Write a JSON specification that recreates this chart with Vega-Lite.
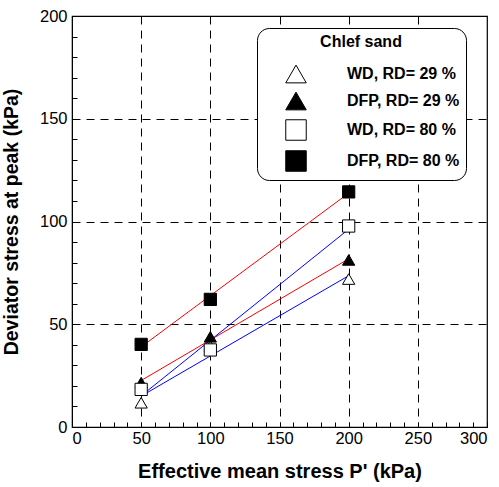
{
  "$schema": "https://vega.github.io/schema/vega-lite/v6.json",
  "autosize": "none",
  "width": 415,
  "height": 411,
  "padding": {"left": 72, "top": 16, "right": 12, "bottom": 60},
  "background": "white",
  "config": {
    "font": "Liberation Sans",
    "view": {"stroke": "black", "strokeWidth": 1.2},
    "legend": {
      "orient": "none", "legendX": 185, "legendY": 12,
      "fillColor": "white", "strokeColor": "black", "cornerRadius": 12,
      "padding": 6, "titleFontSize": 16, "titleFontWeight": "bold", "titleColor": "black",
      "titleAnchor": "middle", "titlePadding": 13,
      "labelFontSize": 16, "labelFontWeight": "bold", "labelColor": "black",
      "symbolSize": 420, "symbolOffset": 22, "labelOffset": 40, "rowPadding": 5,
      "symbolStrokeWidth": 1
    }
  },
  "data": {
    "values": [
      {"p": 50, "q": 11.8, "series": "WD, RD= 29 %", "test": "WD"},
      {"p": 100, "q": 39.4, "series": "WD, RD= 29 %", "test": "WD"},
      {"p": 200, "q": 72.0, "series": "WD, RD= 29 %", "test": "WD"},
      {"p": 50, "q": 21.6, "series": "DFP, RD= 29 %", "test": "DFP"},
      {"p": 100, "q": 43.9, "series": "DFP, RD= 29 %", "test": "DFP"},
      {"p": 200, "q": 81.3, "series": "DFP, RD= 29 %", "test": "DFP"},
      {"p": 50, "q": 18.3, "series": "WD, RD= 80 %", "test": "WD"},
      {"p": 100, "q": 37.5, "series": "WD, RD= 80 %", "test": "WD"},
      {"p": 200, "q": 97.8, "series": "WD, RD= 80 %", "test": "WD"},
      {"p": 50, "q": 40.2, "series": "DFP, RD= 80 %", "test": "DFP"},
      {"p": 100, "q": 62.1, "series": "DFP, RD= 80 %", "test": "DFP"},
      {"p": 200, "q": 114.4, "series": "DFP, RD= 80 %", "test": "DFP"}
    ]
  },
  "encoding": {
    "x": {
      "field": "p", "type": "quantitative",
      "scale": {"domain": [0, 300], "nice": false},
      "axis": {
        "title": "Effective mean stress P' (kPa)",
        "titleFontSize": 20, "titleFontWeight": "bold", "titleColor": "black", "titlePadding": 15,
        "values": [0,10,20,30,40,50,60,70,80,90,100,110,120,130,140,150,160,170,180,190,200,210,220,230,240,250,260,270,280,290,300],
        "labelExpr": "datum.value % 50 === 0 ? datum.label : ''",
        "labelFontSize": 16.5, "labelColor": "black", "labelPadding": 8,
        "tickSize": -5, "tickColor": "black", "domainColor": "black",
        "grid": true, "gridColor": "black", "gridDash": [8, 6],
        "gridOpacity": {"condition": {"test": "datum.value % 50 === 0 && datum.value > 0 && datum.value < 300", "value": 1}, "value": 0}
      }
    },
    "y": {
      "field": "q", "type": "quantitative",
      "scale": {"domain": [0, 200], "nice": false},
      "axis": {
        "title": "Deviator stress at peak (kPa)",
        "titleFontSize": 19.5, "titleFontWeight": "bold", "titleColor": "black", "titlePadding": 18,
        "values": [0,10,20,30,40,50,60,70,80,90,100,110,120,130,140,150,160,170,180,190,200],
        "labelExpr": "datum.value % 50 === 0 ? datum.label : ''",
        "labelFontSize": 16.5, "labelColor": "black", "labelPadding": 10,
        "tickSize": -5, "tickColor": "black", "domainColor": "black",
        "grid": true, "gridColor": "black", "gridDash": [8, 6],
        "gridOpacity": {"condition": {"test": "datum.value % 50 === 0 && datum.value > 0 && datum.value < 200", "value": 1}, "value": 0}
      }
    }
  },
  "layer": [
    {
      "transform": [
        {"regression": "q", "on": "p", "groupby": ["series", "test"]}
      ],
      "mark": {"type": "line", "strokeWidth": 1},
      "encoding": {
        "detail": {"field": "series"},
        "color": {
          "field": "test", "type": "nominal",
          "scale": {"domain": ["DFP", "WD"], "range": ["#ff0000", "#0000ff"]},
          "legend": null
        }
      }
    },
    {
      "mark": {"type": "point", "filled": true, "strokeWidth": 1, "size": 150, "opacity": 1},
      "encoding": {
        "shape": {
          "field": "series", "type": "nominal",
          "scale": {"domain": ["WD, RD= 29 %", "DFP, RD= 29 %", "WD, RD= 80 %", "DFP, RD= 80 %"], "range": ["triangle-up", "triangle-up", "square", "square"]},
          "legend": {"title": "Chlef sand"}
        },
        "fill": {
          "field": "series", "type": "nominal",
          "scale": {"domain": ["WD, RD= 29 %", "DFP, RD= 29 %", "WD, RD= 80 %", "DFP, RD= 80 %"], "range": ["white", "black", "white", "black"]},
          "legend": {"title": "Chlef sand"}
        },
        "stroke": {
          "field": "series", "type": "nominal",
          "scale": {"domain": ["WD, RD= 29 %", "DFP, RD= 29 %", "WD, RD= 80 %", "DFP, RD= 80 %"], "range": ["black", "black", "black", "black"]},
          "legend": {"title": "Chlef sand"}
        }
      }
    }
  ]
}
